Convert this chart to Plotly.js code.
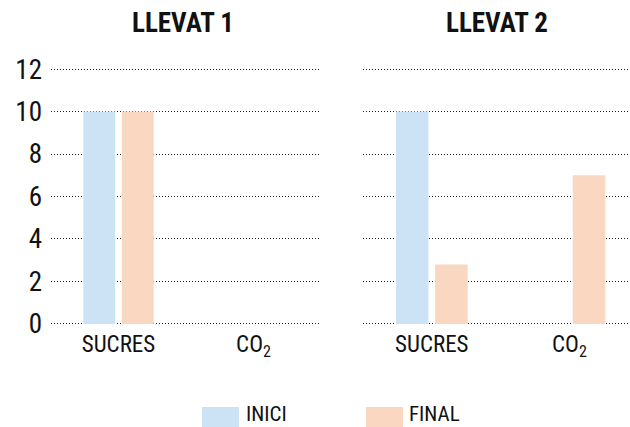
<!DOCTYPE html>
<html>
<head>
<meta charset="utf-8">
<script src="https://cdn.plot.ly/plotly-3.0.1.min.js"></script>
<style>html,body{margin:0;padding:0;background:#fff}#chart{width:630px;height:427px}</style>
</head>
<body>
<div id="chart"></div>
<script>
const categories = ["SUCRES", "CO<sub>2</sub>"];
const panelTitles = ["LLEVAT 1", "LLEVAT 2"];
const seriesNames = ["INICI", "FINAL"];
const llevat1Inici = [10, 0];
const llevat1Final = [10, 0];
const llevat2Inici = [10, 0];
const llevat2Final = [2.8, 7];
const yTicks = [0, 2, 4, 6, 8, 10, 12];

const colors = ["#cce3f5", "#f9d7c0"];
const FONT = "'Roboto Condensed', 'Liberation Sans Narrow', 'Arial Narrow', 'DejaVu Sans Condensed', sans-serif";

const traces = [
  {type: "bar", x: categories, y: llevat1Inici, name: seriesNames[0], marker: {color: colors[0]}, xaxis: "x", yaxis: "y", showlegend: false, hoverinfo: "none"},
  {type: "bar", x: categories, y: llevat1Final, name: seriesNames[1], marker: {color: colors[1]}, xaxis: "x", yaxis: "y", showlegend: false, hoverinfo: "none"},
  {type: "bar", x: categories, y: llevat2Inici, name: seriesNames[0], marker: {color: colors[0]}, xaxis: "x2", yaxis: "y2", showlegend: false, hoverinfo: "none"},
  {type: "bar", x: categories, y: llevat2Final, name: seriesNames[1], marker: {color: colors[1]}, xaxis: "x2", yaxis: "y2", showlegend: false, hoverinfo: "none"}
];

const W = 630, H = 427, mt = 68, mb = 102;
const ph = H - mt - mb;
const px = v => v / W;
const py = v => (H - mb - v) / ph;

const gridStyle = {
  showgrid: true, gridcolor: "#222", gridwidth: 1, griddash: "1px,2px",
  zeroline: false, showline: false, range: [-0.05, 12.05], tickvals: yTicks, fixedrange: true
};

const layout = {
  width: W, height: H,
  margin: {l: 0, r: 0, t: mt, b: mb},
  paper_bgcolor: "#fff", plot_bgcolor: "#fff",
  barmode: "group", bargap: 0.43, bargroupgap: 0.17,
  showlegend: false,
  font: {family: FONT, color: "#111"},
  xaxis: {domain: [px(51), px(321)], type: "category", range: [-0.5, 1.5], showgrid: false, zeroline: false, showline: false, ticks: "", tickfont: {size: 23, family: FONT, color: "#111"}, ticklabelstandoff: 3},
  xaxis2: {domain: [px(363), 1], type: "category", range: [-0.5, 1.44], showgrid: false, zeroline: false, showline: false, ticks: "", tickfont: {size: 23, family: FONT, color: "#111"}, ticklabelstandoff: 3},
  yaxis: Object.assign({}, gridStyle, {anchor: "x", ticks: "", tickfont: {size: 27, family: FONT, color: "#111"}, ticklabelstandoff: 8}),
  yaxis2: Object.assign({}, gridStyle, {anchor: "x2", showticklabels: false, ticks: ""}),
  annotations: [
    {text: "<b>" + panelTitles[0] + "</b>", xref: "paper", yref: "paper", x: px(183), y: py(23), xanchor: "center", yanchor: "middle", showarrow: false, font: {size: 27, family: FONT, color: "#111"}},
    {text: "<b>" + panelTitles[1] + "</b>", xref: "paper", yref: "paper", x: px(497), y: py(23), xanchor: "center", yanchor: "middle", showarrow: false, font: {size: 27, family: FONT, color: "#111"}},
    {text: seriesNames[0], xref: "paper", yref: "paper", x: px(244), y: py(414), xanchor: "left", yanchor: "middle", showarrow: false, font: {size: 21, family: FONT, color: "#111"}},
    {text: seriesNames[1], xref: "paper", yref: "paper", x: px(407), y: py(414), xanchor: "left", yanchor: "middle", showarrow: false, font: {size: 21, family: FONT, color: "#111"}}
  ],
  shapes: [
    {type: "rect", xref: "paper", yref: "paper", x0: px(202), x1: px(239), y0: py(407), y1: py(428), fillcolor: colors[0], line: {width: 0}},
    {type: "rect", xref: "paper", yref: "paper", x0: px(366), x1: px(403), y0: py(407), y1: py(428), fillcolor: colors[1], line: {width: 0}}
  ]
};

Plotly.newPlot("chart", traces, layout, {staticPlot: true, displayModeBar: false});
</script>
</body>
</html>
